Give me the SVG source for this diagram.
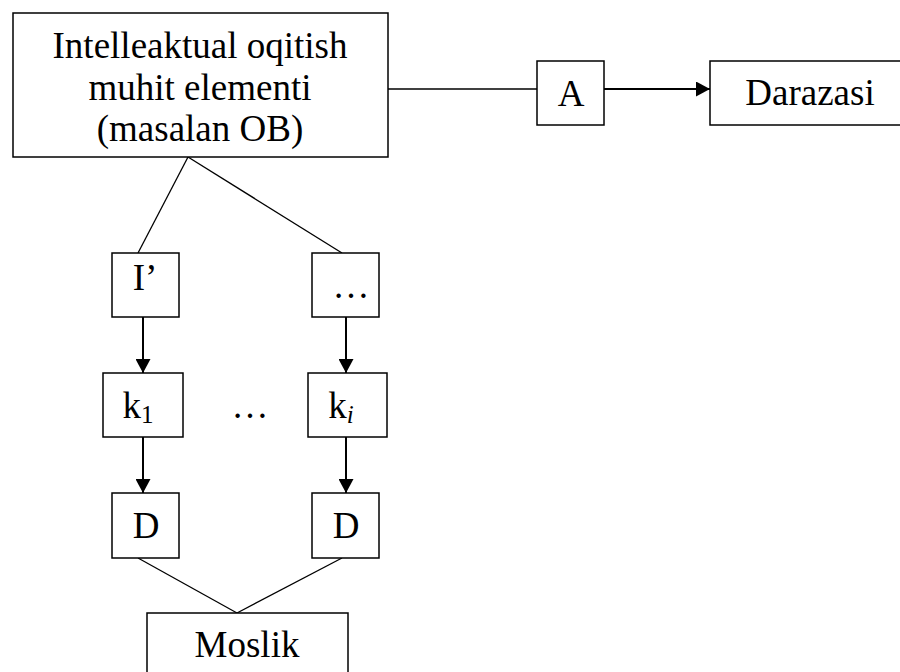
<svg xmlns="http://www.w3.org/2000/svg" width="900" height="672" viewBox="0 0 900 672">
<defs>
<marker id="ah" markerUnits="userSpaceOnUse" markerWidth="14" markerHeight="15" refX="14" refY="7.5" orient="auto">
<path d="M0,0 L14,7.5 L0,15 z" fill="#000"/>
</marker>
<style>
.box{fill:#fff;stroke:#000;stroke-width:1.5}
.t{font-family:"Liberation Serif","Times New Roman",serif;font-size:37px;fill:#000;text-anchor:middle}
.sub{font-size:25px}
.ln{stroke:#000;stroke-width:1.3;fill:none}
.ar{stroke:#000;stroke-width:2;fill:none;marker-end:url(#ah)}
</style>
</defs>
<rect width="900" height="672" fill="#fff"/>
<g id="connectors">
<line class="ln" x1="388" y1="89" x2="537" y2="89"/>
<line class="ar" x1="604" y1="89" x2="710" y2="89"/>
<line class="ln" x1="188" y1="157" x2="138" y2="253"/>
<line class="ln" x1="188" y1="157" x2="342" y2="253"/>
<line class="ar" x1="143" y1="317" x2="143" y2="373"/>
<line class="ar" x1="346" y1="317" x2="346" y2="373"/>
<line class="ar" x1="143" y1="437" x2="143" y2="493"/>
<line class="ar" x1="346" y1="437" x2="346" y2="493"/>
<line class="ln" x1="138" y1="558" x2="237" y2="613"/>
<line class="ln" x1="342" y1="558" x2="237" y2="613"/>
</g>
<g id="main">
<rect class="box" x="13" y="13" width="375" height="144"/>
<text class="t" x="200" y="58">Intelleaktual oqitish</text>
<text class="t" x="200" y="100">muhit elementi</text>
<text class="t" x="200" y="141">(masalan OB)</text>
</g>
<g id="nodeA">
<rect class="box" x="537" y="61" width="67" height="64"/>
<text class="t" x="571" y="106">A</text>
</g>
<g id="darazasi">
<rect class="box" x="710" y="61" width="200" height="64"/>
<text class="t" x="810" y="105">Darazasi</text>
</g>
<g id="nodeI">
<rect class="box" x="112" y="253" width="67" height="64"/>
<text class="t" x="145" y="290">I’</text>
</g>
<g id="nodeDots">
<rect class="box" x="312" y="253" width="67" height="64"/>
<text class="t" x="351" y="298">…</text>
</g>
<g id="k1">
<rect class="box" x="103" y="373" width="80" height="64"/>
<text class="t" x="138" y="418">k<tspan class="sub" dy="5">1</tspan></text>
</g>
<g id="midDots">
<text class="t" x="250" y="418">…</text>
</g>
<g id="ki">
<rect class="box" x="308" y="373" width="79" height="64"/>
<text class="t" x="341" y="418">k<tspan class="sub" dy="5" font-style="italic">i</tspan></text>
</g>
<g id="D1">
<rect class="box" x="112" y="493" width="67" height="65"/>
<text class="t" x="146" y="538">D</text>
</g>
<g id="D2">
<rect class="box" x="312" y="493" width="67" height="65"/>
<text class="t" x="346" y="538">D</text>
</g>
<g id="moslik">
<rect class="box" x="147" y="613" width="201" height="80"/>
<text class="t" x="247" y="657">Moslik</text>
</g>
</svg>
